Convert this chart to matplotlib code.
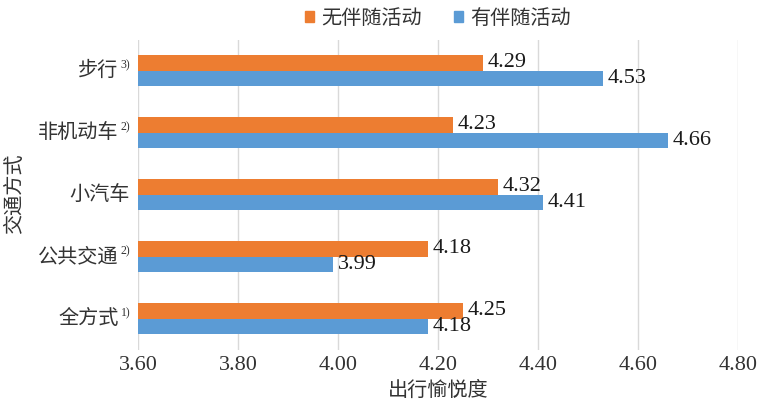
import matplotlib
matplotlib.use("Agg")
import matplotlib.pyplot as plt
from matplotlib.transforms import offset_copy
from matplotlib.patches import Patch
import numpy as np

# --- data (top to bottom as in chart) ---
modes = ["步行", "非机动车", "小汽车", "公共交通", "全方式"]
notes = ["3)", "2)", "", "2)", "1)"]
no_comp = [4.29, 4.23, 4.32, 4.18, 4.25]      # 无伴随活动
with_comp = [4.53, 4.66, 4.41, 3.99, 4.18]    # 有伴随活动
x_ticks = [3.60, 3.80, 4.00, 4.20, 4.40, 4.60, 4.80]

ORANGE = "#ED7D31"
BLUE = "#5B9BD5"
CJK = ["Noto Sans CJK SC", "DejaVu Sans"]
SERIF = ["Liberation Serif", "DejaVu Serif"]
X_MIN, X_MAX = 3.60, 4.80

fig = plt.figure(figsize=(7.59, 4.09), dpi=100)
ax = fig.add_axes([138 / 759, 1 - 349.5 / 409, 600 / 759, 310 / 409])

y = np.arange(len(modes))
h = 0.25
ax.barh(y - h / 2, np.array(no_comp) - X_MIN, left=X_MIN, height=h, color=ORANGE, zorder=3)
ax.barh(y + h / 2, np.array(with_comp) - X_MIN, left=X_MIN, height=h, color=BLUE, zorder=3)

# value labels
for i in range(len(modes)):
    ax.annotate(f"{no_comp[i]:.2f}", (no_comp[i], y[i] - h / 2), xytext=(3.5, 0),
                textcoords="offset points", va="center", ha="left",
                fontsize=16, family=SERIF, color="#1a1a1a", zorder=4)
    ax.annotate(f"{with_comp[i]:.2f}", (with_comp[i], y[i] + h / 2), xytext=(3.5, 0),
                textcoords="offset points", va="center", ha="left",
                fontsize=16, family=SERIF, color="#1a1a1a", zorder=4)

ax.set_xlim(X_MIN, X_MAX)
ax.set_ylim(len(modes) - 0.5, -0.5)
ax.set_xticks(x_ticks)
ax.set_xticklabels([f"{t:.2f}" for t in x_ticks], fontsize=16, family=SERIF, color="#333333")
ax.set_yticks([])
ax.tick_params(axis="x", length=0, pad=5)
ax.grid(axis="x", color="#D9D9D9", linewidth=1, zorder=0)
for s in ax.spines.values():
    s.set_visible(False)

# category labels with superscript notes
ytr = ax.get_yaxis_transform()
for i, (m, n) in enumerate(zip(modes, notes)):
    if n:
        ax.text(0, y[i], m, transform=offset_copy(ytr, fig=fig, x=-14, y=0, units="points"),
                ha="right", va="center", fontsize=14.5, family=CJK, weight="light", color="#333333")
        ax.text(0, y[i], n, transform=offset_copy(ytr, fig=fig, x=-5.5, y=3.5, units="points"),
                ha="right", va="center", fontsize=8.5, family=SERIF, color="#333333")
    else:
        ax.text(0, y[i], m, transform=offset_copy(ytr, fig=fig, x=-6, y=0, units="points"),
                ha="right", va="center", fontsize=14.5, family=CJK, weight="light", color="#333333")

ax.set_xlabel("出行愉悦度", fontsize=14.5, family=CJK, weight="light", color="#333333", labelpad=3)
fig.text(15 / 759, 1 - 194 / 409, "交通方式", rotation=90, ha="center", va="center",
         fontsize=14.5, family=CJK, weight="light", color="#333333")

handles = [Patch(color=ORANGE), Patch(color=BLUE)]
leg = fig.legend(handles, ["无伴随活动", "有伴随活动"], loc="center", ncol=2,
                 bbox_to_anchor=(438 / 759, 1 - 18 / 409), frameon=False,
                 handlelength=0.45, handleheight=0.45, handletextpad=0.35, columnspacing=1.6,
                 prop={"family": CJK, "size": 14.5, "weight": "light"})
for t in leg.get_texts():
    t.set_color("#333333")

fig.savefig("out.png", dpi=100)
